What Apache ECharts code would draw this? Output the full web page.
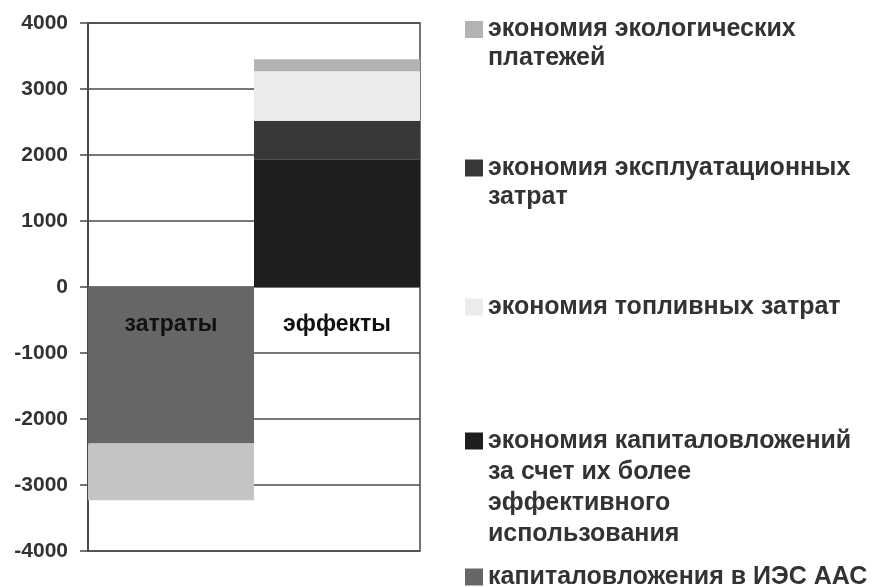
<!DOCTYPE html>
<html>
<head>
<meta charset="utf-8">
<script src="https://cdn.jsdelivr.net/npm/echarts@6/dist/echarts.min.js"></script>
<style>
  html, body { margin: 0; padding: 0; background: #fff; }
  #chart { width: 873px; height: 587px; }
</style>
</head>
<body>
<div id="chart"></div>
<script>
// категории
const categories = ['затраты', 'эффекты'];
// значения рядов (стек)
const capInvest = [-2370, '-'];       // капиталовложения в ИЭС ААС
const otherCosts = [-860, '-'];       // нижний светлый сегмент затрат (без подписи в легенде)
const capSaving = ['-', 1935];        // экономия капиталовложений ...
const opSaving = ['-', 585];          // экономия эксплуатационных затрат
const fuelSaving = ['-', 750];        // экономия топливных затрат
const ecoSaving = ['-', 180];         // экономия экологических платежей
const yTicks = [-4000, -3000, -2000, -1000, 0, 1000, 2000, 3000, 4000];

const names = {
  eco: 'экономия экологических\nплатежей',
  op: 'экономия эксплуатационных\nзатрат',
  fuel: 'экономия топливных затрат',
  cap: 'экономия капиталовложений\nза счет их более\nэффективного\nиспользования',
  inv: 'капиталовложения в ИЭС ААС',
  other: 'прочие затраты'
};

const font = '"Liberation Sans", Arial, sans-serif';

const gridTop = 23;
const gridBottom = 36;
const gridHeight = 587 - gridTop - gridBottom;
const yMin = yTicks[0];
const yMax = yTicks[yTicks.length - 1];
// подписи категорий стоят у нулевой линии, как в Excel
const zeroOffset = -gridHeight * (0 - yMin) / (yMax - yMin);

// одна легенда на пункт, чтобы квадрат стоял у первой строки
// (текст центрируется по значку, поэтому сверху добавляются пустые строки)
function legendItem(name, iconCenter, lh) {
  const lines = name.split('\n').length;
  const h = (2 * lines - 1) * lh;
  return {
    data: [name],
    orient: 'vertical',
    left: 465,
    top: iconCenter - h / 2,
    padding: 0,
    itemWidth: 18,
    itemHeight: 17,
    itemGap: 5,
    selectedMode: false,
    icon: 'rect',
    formatter: function (n) {
      return '\n'.repeat(lines - 1) + n;
    },
    textStyle: {
      fontFamily: font,
      fontWeight: 'bold',
      fontSize: 25,
      color: '#333',
      lineHeight: lh
    }
  };
}

const myChart = echarts.init(document.getElementById('chart'));
const option = {
  animation: false,
  backgroundColor: '#fff',
  legend: [
    legendItem(names.eco, 29.5, 29),
    legendItem(names.op, 168, 29),
    legendItem(names.fuel, 307, 29),
    legendItem(names.cap, 441, 31),
    legendItem(names.inv, 577, 29)
  ],
  grid: {
    left: 88,
    right: 453,
    top: gridTop,
    bottom: gridBottom,
    containLabel: false,
    outerBoundsMode: 'none',
    show: true,
    borderColor: '#4a4a4a',
    borderWidth: 1.5,
    backgroundColor: 'transparent'
  },
  xAxis: {
    type: 'category',
    data: categories,
    z: 10,
    offset: zeroOffset,
    axisLine: { show: false, onZero: false },
    axisTick: { show: false },
    axisLabel: {
      margin: 26,
      fontFamily: font,
      fontWeight: 'bold',
      fontSize: 23,
      color: '#111'
    }
  },
  yAxis: {
    type: 'value',
    min: yMin,
    max: yMax,
    interval: 1000,
    axisLine: { show: true, lineStyle: { color: '#4a4a4a', width: 2 } },
    axisTick: { show: true, length: 8, lineStyle: { color: '#4a4a4a', width: 1.5 } },
    splitLine: { show: true, lineStyle: { color: '#4a4a4a', width: 1.5 } },
    axisLabel: {
      margin: 20,
      fontFamily: font,
      fontWeight: 'bold',
      fontSize: 21,
      color: '#333',
      formatter: function (v) { return String(v); }
    }
  },
  series: [
    { name: names.inv, type: 'bar', stack: 'all', barCategoryGap: '0%', data: capInvest, itemStyle: { color: '#666666' } },
    { name: names.other, type: 'bar', stack: 'all', data: otherCosts, itemStyle: { color: '#c4c4c4' } },
    { name: names.cap, type: 'bar', stack: 'all', data: capSaving, itemStyle: { color: '#1e1e1e' } },
    { name: names.op, type: 'bar', stack: 'all', data: opSaving, itemStyle: { color: '#383838' } },
    { name: names.fuel, type: 'bar', stack: 'all', data: fuelSaving, itemStyle: { color: '#ebebeb' } },
    { name: names.eco, type: 'bar', stack: 'all', data: ecoSaving, itemStyle: { color: '#b3b3b3' } }
  ]
};
myChart.setOption(option);
window.addEventListener('resize', function () {
  myChart.resize();
});
</script>
</body>
</html>
